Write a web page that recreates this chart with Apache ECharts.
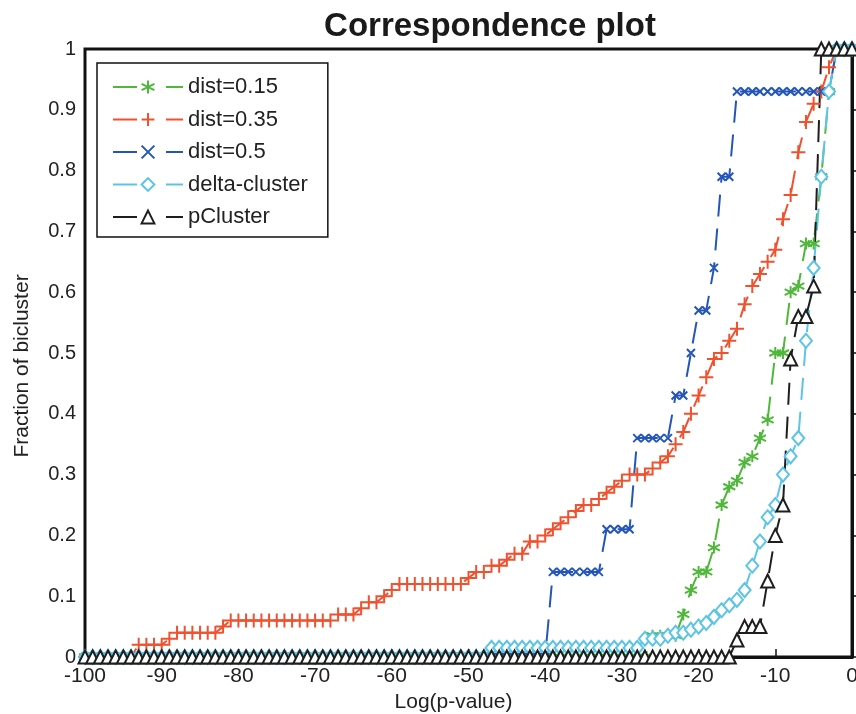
<!DOCTYPE html>
<html>
<head>
<meta charset="utf-8">
<script src="https://cdn.jsdelivr.net/npm/echarts@6/dist/echarts.min.js"></script>
<style>
  html, body { margin: 0; padding: 0; background: #fff; }
  #chart { width: 856px; height: 714px; }
</style>
</head>
<body>
<div id="chart"></div>
<script>
// log(p-value) grid the curves were sampled on
var xs = [
  -100, -99, -98, -97, -96, -95, -94, -93, -92, -91,
  -90, -89, -88, -87, -86, -85, -84, -83, -82, -81,
  -80, -79, -78, -77, -76, -75, -74, -73, -72, -71,
  -70, -69, -68, -67, -66, -65, -64, -63, -62, -61,
  -60, -59, -58, -57, -56, -55, -54, -53, -52, -51,
  -50, -49, -48, -47, -46, -45, -44, -43, -42, -41,
  -40, -39, -38, -37, -36, -35, -34, -33, -32, -31,
  -30, -29, -28, -27, -26, -25, -24, -23, -22, -21,
  -20, -19, -18, -17, -16, -15, -14, -13, -12, -11,
  -10, -9, -8, -7, -6, -5, -4, -3, -2, -1,
  0
];

var dist015 = [
  0, 0, 0, 0, 0, 0, 0, 0, 0, 0,
  0, 0, 0, 0, 0, 0, 0, 0, 0, 0,
  0, 0, 0, 0, 0, 0, 0, 0, 0, 0,
  0, 0, 0, 0, 0, 0, 0, 0, 0, 0,
  0, 0, 0, 0, 0, 0, 0, 0, 0, 0,
  0, 0, 0, 0, 0, 0, 0, 0, 0, 0,
  0, 0, 0, 0, 0, 0, 0, 0, 0, 0,
  0, 0, 0, 0, 0.035, 0.035, 0.035, 0.035, 0.07, 0.11,
  0.14, 0.14, 0.18, 0.25, 0.28, 0.29, 0.32, 0.33, 0.36, 0.39,
  0.5, 0.5, 0.6, 0.61, 0.68, 0.68, 0.79, 0.93, 1, 1,
  1
];

var dist035 = [
  0, 0, 0, 0, 0, 0, 0, 0.02, 0.02, 0.02,
  0.02, 0.03, 0.04, 0.04, 0.04, 0.04, 0.04, 0.04, 0.05, 0.06,
  0.06, 0.06, 0.06, 0.06, 0.06, 0.06, 0.06, 0.06, 0.06, 0.06,
  0.06, 0.06, 0.06, 0.07, 0.07, 0.07, 0.08, 0.09, 0.09, 0.10,
  0.11, 0.12, 0.12, 0.12, 0.12, 0.12, 0.12, 0.12, 0.12, 0.12,
  0.13, 0.14, 0.14, 0.15, 0.15, 0.16, 0.17, 0.17, 0.19, 0.19,
  0.20, 0.21, 0.22, 0.23, 0.24, 0.25, 0.25, 0.26, 0.27, 0.28,
  0.29, 0.30, 0.30, 0.30, 0.31, 0.32, 0.33, 0.35, 0.37, 0.40,
  0.43, 0.46, 0.49, 0.50, 0.52, 0.54, 0.58, 0.61, 0.63, 0.65,
  0.67, 0.72, 0.76, 0.83, 0.88, 0.91, 0.93, 0.97, 1, 1,
  1
];

var dist05 = [
  0, 0, 0, 0, 0, 0, 0, 0, 0, 0,
  0, 0, 0, 0, 0, 0, 0, 0, 0, 0,
  0, 0, 0, 0, 0, 0, 0, 0, 0, 0,
  0, 0, 0, 0, 0, 0, 0, 0, 0, 0,
  0, 0, 0, 0, 0, 0, 0, 0, 0, 0,
  0, 0, 0, 0, 0, 0, 0, 0, 0, 0,
  0, 0.14, 0.14, 0.14, 0.14, 0.14, 0.14, 0.14, 0.21, 0.21,
  0.21, 0.21, 0.36, 0.36, 0.36, 0.36, 0.36, 0.43, 0.43, 0.50,
  0.57, 0.57, 0.64, 0.79, 0.79, 0.93, 0.93, 0.93, 0.93, 0.93,
  0.93, 0.93, 0.93, 0.93, 0.93, 0.93, 0.93, 0.93, 1, 1,
  1
];

var deltaCluster = [
  0, 0, 0, 0, 0, 0, 0, 0, 0, 0,
  0, 0, 0, 0, 0, 0, 0, 0, 0, 0,
  0, 0, 0, 0, 0, 0, 0, 0, 0, 0,
  0, 0, 0, 0, 0, 0, 0, 0, 0, 0,
  0, 0, 0, 0, 0, 0, 0, 0, 0, 0,
  0, 0, 0, 0.015, 0.015, 0.015, 0.015, 0.015, 0.015, 0.015,
  0.015, 0.015, 0.015, 0.015, 0.015, 0.015, 0.015, 0.015, 0.015, 0.015,
  0.015, 0.015, 0.015, 0.03, 0.03, 0.03, 0.035, 0.04, 0.04, 0.045,
  0.05, 0.056, 0.066, 0.077, 0.085, 0.094, 0.11, 0.15, 0.19, 0.23,
  0.25, 0.30, 0.33, 0.36, 0.52, 0.64, 0.79, 0.93, 1, 1,
  1
];

var pCluster = [
  0, 0, 0, 0, 0, 0, 0, 0, 0, 0,
  0, 0, 0, 0, 0, 0, 0, 0, 0, 0,
  0, 0, 0, 0, 0, 0, 0, 0, 0, 0,
  0, 0, 0, 0, 0, 0, 0, 0, 0, 0,
  0, 0, 0, 0, 0, 0, 0, 0, 0, 0,
  0, 0, 0, 0, 0, 0, 0, 0, 0, 0,
  0, 0, 0, 0, 0, 0, 0, 0, 0, 0,
  0, 0, 0, 0, 0, 0, 0, 0, 0, 0,
  0, 0, 0, 0, 0, 0.028, 0.05, 0.05, 0.05, 0.125,
  0.2, 0.25, 0.49, 0.56, 0.56, 0.61, 1, 1, 1, 1,
  1
];

var names = ['dist=0.15', 'dist=0.35', 'dist=0.5', 'delta-cluster', 'pCluster'];
var colors = ['#4fb83a', '#f0512e', '#2456b8', '#5cc5e6', '#1e1e1e'];

var FONT = '"Liberation Sans", Arial, sans-serif';

// matlab-ish markers
var markStar = 'path://M0,-1L0,1M-0.87,-0.5L0.87,0.5M-0.87,0.5L0.87,-0.5';
var markPlus = 'path://M0,-1L0,1M-1,0L1,0';
var markX = 'path://M-1,-1L1,1M-1,1L1,-1';

function pairs(ys) {
  return xs.map(function (x, i) { return [x, ys[i]]; });
}

function makeSeries(i, ys, symbol, size, fill) {
  return {
    name: names[i],
    type: 'line',
    data: pairs(ys),
    symbol: symbol,
    symbolSize: size,
    showAllSymbol: true,
    clip: false,
    lineStyle: { color: colors[i], width: 2, type: [22, 12] },
    itemStyle: { color: fill || colors[i], borderColor: colors[i], borderWidth: 2 }
  };
}

var chart = echarts.init(document.getElementById('chart'));

var option = {
  backgroundColor: '#ffffff',
  animation: false,
  title: {
    text: 'Correspondence plot',
    left: 485,
    textAlign: 'center',
    top: 5,
    textStyle: { fontFamily: FONT, fontSize: 33, fontWeight: 'bold', color: '#1a1a1a' }
  },
  grid: {
    left: 85, right: 4, top: 49, bottom: 57,
    containLabel: false,
    outerBoundsMode: 'none',
    show: true, borderColor: '#111', borderWidth: 3, backgroundColor: 'transparent'
  },
  legend: {
    orient: 'vertical',
    left: 97, top: 63,
    padding: [12, 20, 8, 15],
    itemWidth: 70, itemHeight: 16, itemGap: 8.5,
    borderColor: '#111', borderWidth: 1.5,
    backgroundColor: '#fff',
    lineStyle: { type: [24, 29, 17, 100] },
    textStyle: { fontFamily: FONT, fontSize: 22, lineHeight: 24, color: '#222' },
    data: names
  },
  xAxis: {
    type: 'value',
    min: -100, max: 0, interval: 10,
    name: 'Log(p-value)',
    nameLocation: 'middle',
    nameGap: 33,
    nameTextStyle: { fontFamily: FONT, fontSize: 21, color: '#222', padding: [0, 30, 0, 0] },
    axisLine: { lineStyle: { color: '#111', width: 3 } },
    axisTick: { inside: true, length: 8, lineStyle: { color: '#111', width: 1.5 } },
    axisLabel: { fontFamily: FONT, fontSize: 21, color: '#222', margin: 9 },
    splitLine: { show: false }
  },
  yAxis: {
    type: 'value',
    min: 0, max: 1, interval: 0.1,
    name: 'Fraction of bicluster',
    nameLocation: 'middle',
    nameGap: 52,
    nameRotate: 90,
    nameTextStyle: { fontFamily: FONT, fontSize: 21, color: '#222', padding: [0, 26, 0, 0] },
    axisLine: { lineStyle: { color: '#111', width: 3 } },
    axisTick: { inside: true, length: 10, lineStyle: { color: '#111', width: 1.5 } },
    axisLabel: { fontFamily: FONT, fontSize: 20, color: '#222', margin: 9 },
    splitLine: { show: false }
  },
  series: [
    makeSeries(0, dist015, markStar, 12),
    makeSeries(1, dist035, markPlus, 14),
    makeSeries(2, dist05, markX, 8),
    makeSeries(3, deltaCluster, 'diamond', [12, 14], '#fff'),
    makeSeries(4, pCluster, 'triangle', 13, '#fff')
  ]
};

chart.setOption(option);
</script>
</body>
</html>
